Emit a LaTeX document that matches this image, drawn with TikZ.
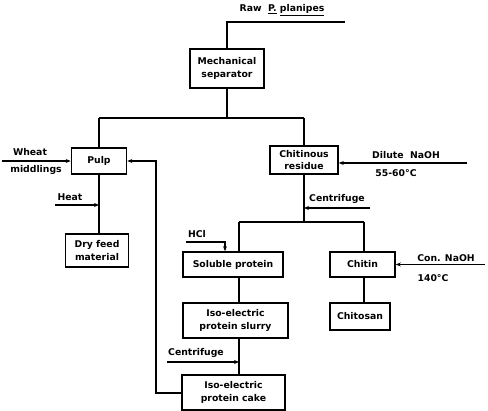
\documentclass[tikz,border=0pt]{standalone}
\usepackage{fontspec}
\setmainfont{DejaVu Sans}
\usetikzlibrary{arrows.meta}
\begin{document}
\begin{tikzpicture}[x=1pt,y=-1pt,
  box/.style={draw,line width=1.6pt,inner sep=1pt,align=center,font=\fontsize{9.3}{12.5}\selectfont\bfseries},
  lbl/.style={inner sep=0pt,align=center,font=\fontsize{9.3}{11}\selectfont\bfseries},
  flow/.style={line width=1.3pt},
  feed/.style={line width=1.3pt,-{Stealth[length=5pt,width=4pt]}}]
\useasboundingbox[fill=white] (0,0) rectangle (488,411);
% boxes
\node[box,minimum width=74pt,minimum height=39pt] (mech) at (227,68.5) {Mechanical\\separator};
\node[box,minimum width=55pt,minimum height=26pt] (pulp) at (99,161) {Pulp};
\node[box,minimum width=63pt,minimum height=33pt] (dry) at (97,250.5) {Dry feed\\material};
\node[box,minimum width=68pt,minimum height=28pt] (chit) at (304,160) {Chitinous\\residue};
\node[box,minimum width=100pt,minimum height=25pt] (sol) at (233,264.5) {Soluble protein};
\node[box,minimum width=65pt,minimum height=25pt] (chitin) at (362.5,264.5) {Chitin};
\node[box,minimum width=60pt,minimum height=27pt] (chitosan) at (360,316.5) {Chitosan};
\node[box,minimum width=105pt,minimum height=35pt] (slurry) at (235.5,320.5) {Iso-electric\\protein slurry};
\node[box,minimum width=103pt,minimum height=35pt] (cake) at (233.5,392.5) {Iso-electric\\protein cake};
% labels
\node[lbl] (raw) at (282,10) {Raw~~\underline{P.}~\underline{planipes}};
\node[lbl] (wheat) at (30,152) {Wheat};
\node[lbl] (midd) at (36,170) {middlings};
\node[lbl] (heat) at (70,197) {Heat};
\node[lbl] (dil) at (406,155) {Dilute~~NaOH};
\node[lbl] (t1) at (396,173) {55-60°C};
\node[lbl] (cen1) at (337,199) {Centrifuge};
\node[lbl] (hcl) at (197,234) {HCl};
\node[lbl] (con) at (446,258) {Con. NaOH};
\node[lbl] (t2) at (433,278) {140°C};
\node[lbl] (cen2) at (196,353) {Centrifuge};
% coordinates
\coordinate (r0) at (345,22);
\coordinate (j1) at (227,118);
\coordinate (jl) at (99,118);
\coordinate (jr) at (304,118);
\coordinate (w0) at (2,161);
\coordinate (h0) at (55,205);
\coordinate (h1) at (99,205);
\coordinate (d0) at (467,163);
\coordinate (c0) at (370,208);
\coordinate (c1) at (304,208);
\coordinate (j2) at (304,222);
\coordinate (j2l) at (239,222);
\coordinate (j2r) at (364,222);
\coordinate (hc0) at (186,242);
\coordinate (hc1) at (225,242);
\coordinate (n0) at (485,264.5);
\coordinate (cf0) at (167,362);
\coordinate (cf1) at (239,362);
\coordinate (rt) at (156,393);
% connectors
\draw[flow] (r0) -| (mech.north);
\draw[flow] (mech.south) -- (j1);
\draw[flow] (jl) -- (jr);
\draw[flow] (jl) -- (pulp.north);
\draw[flow] (jr) -- (chit.north);
\draw[feed] (w0) -- (pulp.west);
\draw[flow] (pulp.south) -- (pulp.south |- dry.north);
\draw[feed] (h0) -- (h1);
\draw[feed] (d0) -- (d0 -| chit.east);
\draw[flow] (chit.south) -- (j2);
\draw[feed] (c0) -- (c1);
\draw[flow] (j2l) -- (j2r);
\draw[flow] (j2l) -- (j2l |- sol.north);
\draw[flow] (j2r) -- (j2r |- chitin.north);
\draw[feed] (hc0) -- (hc1) -- (hc1 |- sol.north);
\draw[feed] (n0) -- (chitin.east);
\draw[flow] (chitin.south -| j2r) -- (j2r |- chitosan.north);
\draw[flow] (sol.south -| j2l) -- (j2l |- slurry.north);
\draw[flow] (slurry.south -| j2l) -- (j2l |- cake.north);
\draw[feed] (cf0) -- (cf1);
\draw[feed] (cake.west |- rt) -- (rt) |- (pulp.east);
\end{tikzpicture}
\end{document}
